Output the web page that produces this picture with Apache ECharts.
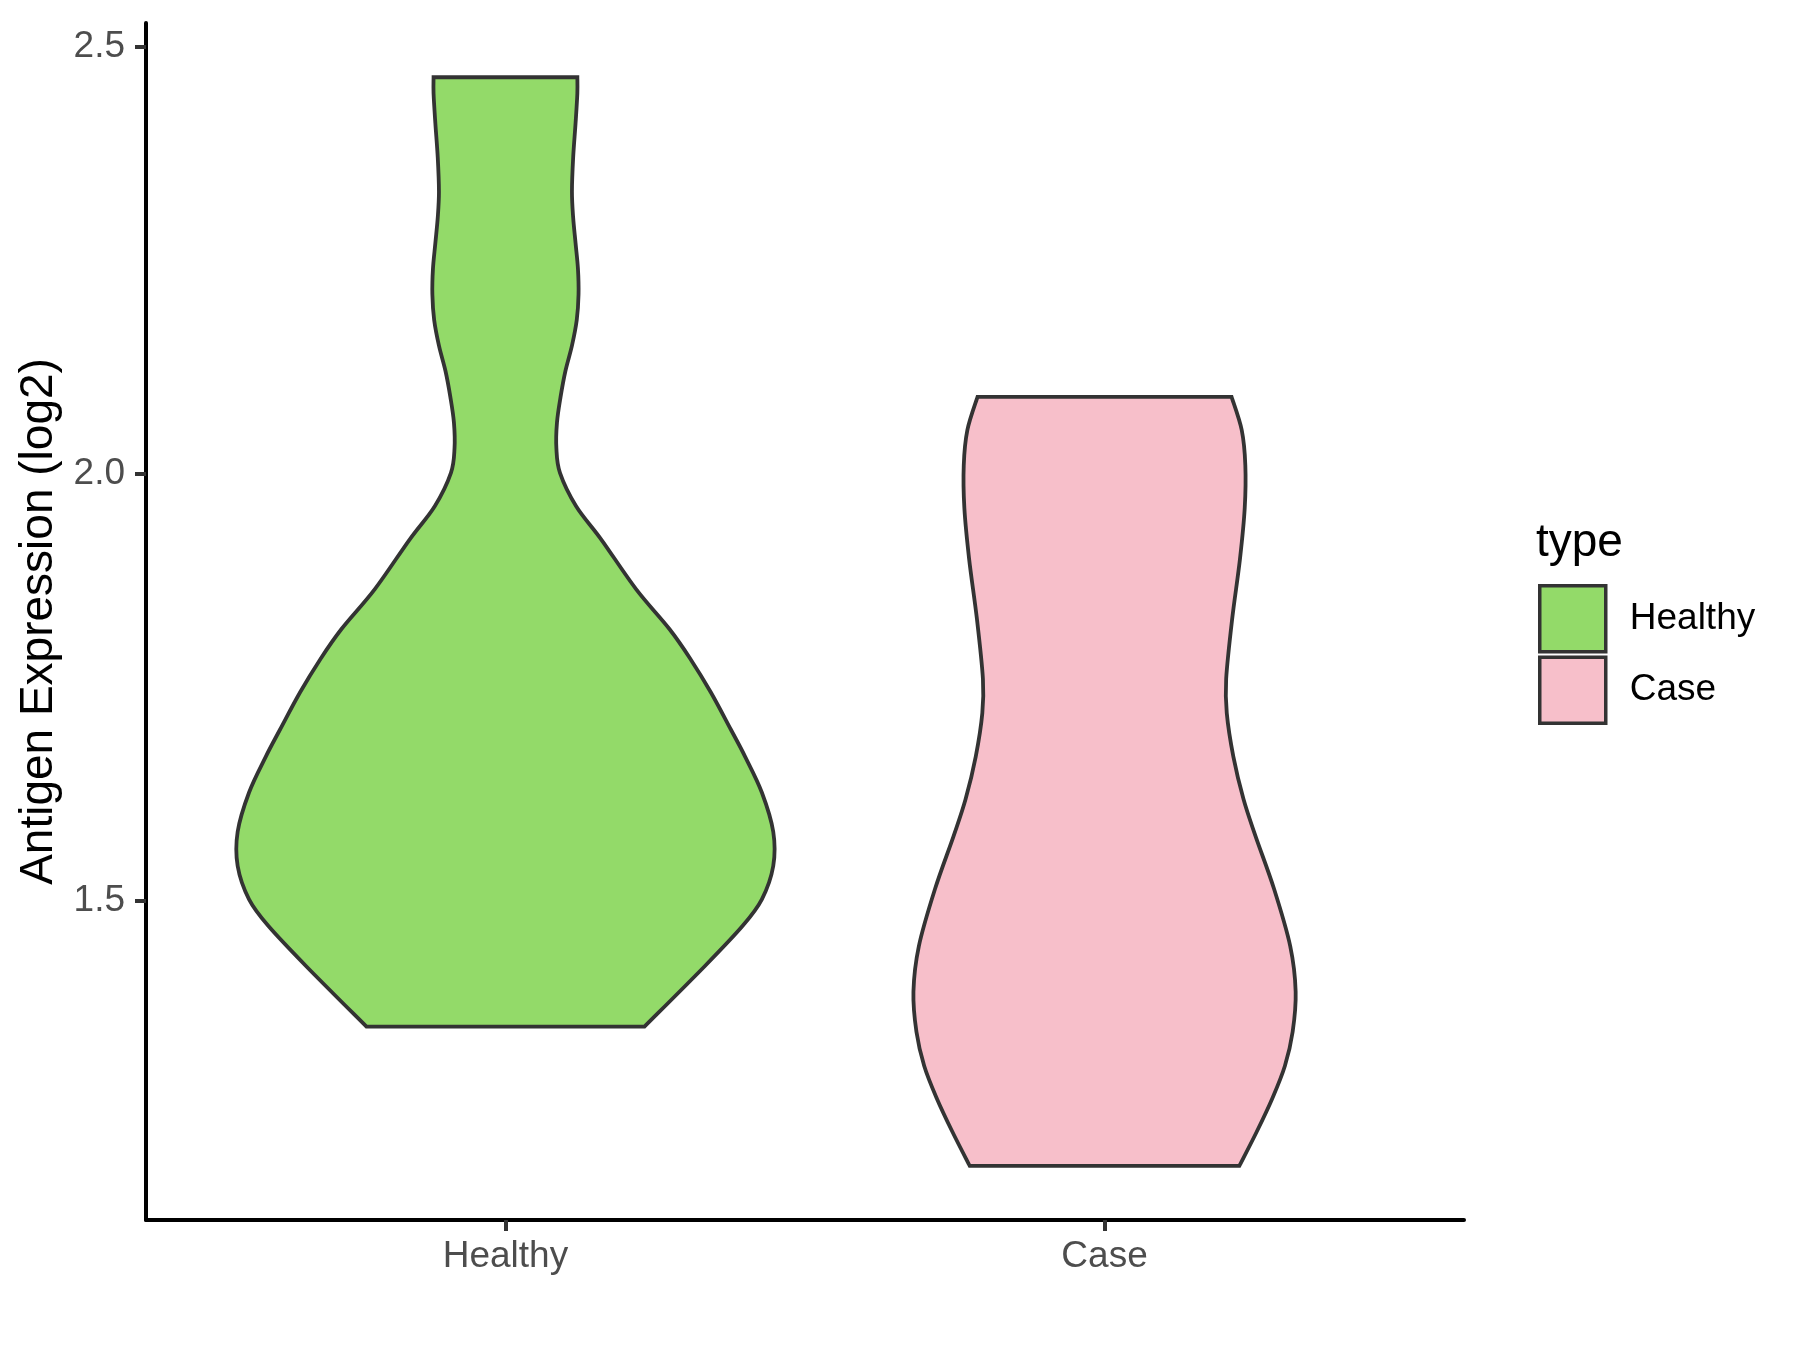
<!DOCTYPE html>
<html>
<head>
<meta charset="utf-8">
<title>Antigen Expression violin</title>
<script src="https://cdn.jsdelivr.net/npm/echarts@6/dist/echarts.min.js"></script>
<style>
  html, body { margin: 0; padding: 0; background: #fff; }
  #chart { width: 1800px; height: 1350px; }
</style>
</head>
<body>
<div id="chart"></div>
<script>
// groups on the x axis
const categories = ['Healthy', 'Case']
const fillColors = ['#93DA69', '#F7BFCA']

// violin outlines, top to bottom:
// y value (log2) and half width in category units
const healthyY = [2.464, 2.445, 2.41, 2.37, 2.33, 2.30, 2.27, 2.24, 2.21, 2.18, 2.15, 2.12, 2.09, 2.06, 2.03,
  2.001, 1.962, 1.923, 1.865, 1.818, 1.783, 1.744, 1.701, 1.669, 1.627, 1.581, 1.541, 1.502, 1.471, 1.424, 1.353]
const healthyHalf = [0.120, 0.120, 0.117, 0.113, 0.111, 0.113, 0.117, 0.121, 0.122, 0.119, 0.111, 0.100, 0.092,
  0.086, 0.085, 0.091, 0.118, 0.160, 0.218, 0.274, 0.309, 0.343, 0.376, 0.400, 0.428, 0.447, 0.447, 0.428,
  0.396, 0.333, 0.232]

const caseY = [2.090, 2.051, 2.01, 1.96, 1.90, 1.83, 1.76, 1.72, 1.669, 1.619, 1.576, 1.514, 1.447,
  1.394, 1.347, 1.307, 1.269, 1.230, 1.190]
const caseHalf = [0.212, 0.229, 0.235, 0.234, 0.226, 0.213, 0.203, 0.204, 0.215, 0.232, 0.252, 0.283, 0.310,
  0.319, 0.314, 0.301, 0.280, 0.254, 0.225]

const yTicks = [1.5, 2.0, 2.5]
const xTicks = [1, 2]

const font = 'Liberation Sans, Arial, Helvetica, sans-serif'

// smooth curve through pixel points (catmull-rom as cubic beziers)
function curveTo(pts) {
  let d = ''
  for (let i = 0; i < pts.length - 1; i++) {
    const p0 = pts[Math.max(i - 1, 0)]
    const p1 = pts[i]
    const p2 = pts[i + 1]
    const p3 = pts[Math.min(i + 2, pts.length - 1)]
    const c1 = [p1[0] + (p2[0] - p0[0]) / 6, p1[1] + (p2[1] - p0[1]) / 6]
    const c2 = [p2[0] - (p3[0] - p1[0]) / 6, p2[1] - (p3[1] - p1[1]) / 6]
    d += ' C' + c1[0] + ',' + c1[1] + ' ' + c2[0] + ',' + c2[1] + ' ' + p2[0] + ',' + p2[1]
  }
  return d
}

function violinItem(ys, halves) {
  return function (params, api) {
    const cx = api.value(0)
    const right = ys.map((y, i) => api.coord([cx + halves[i], y]))
    const left = ys.map((y, i) => api.coord([cx - halves[i], y])).reverse()
    const d = 'M' + right[0][0] + ',' + right[0][1] + curveTo(right) +
      ' L' + left[0][0] + ',' + left[0][1] + curveTo(left) + ' Z'
    return {
      type: 'path',
      shape: { pathData: d },
      style: {
        fill: api.visual('color'),
        stroke: '#333333',
        lineWidth: 3.8,
        lineJoin: 'miter'
      }
    }
  }
}

const chart = echarts.init(document.getElementById('chart'))
chart.setOption({
  animation: false,
  backgroundColor: '#ffffff',
  textStyle: { fontFamily: font },
  title: {
    text: 'type',
    left: 1536,
    top: 520,
    padding: 0,
    textStyle: { fontSize: 46, fontWeight: 'normal', color: '#000000', fontFamily: font }
  },
  legend: {
    orient: 'vertical',
    left: 1538,
    top: 584,
    padding: 0,
    itemWidth: 66,
    itemHeight: 66,
    itemGap: 2,
    icon: 'rect',
    itemStyle: { borderColor: '#333333', borderWidth: 3.5 },
    textStyle: { fontSize: 37, color: '#000000', fontFamily: font, padding: [0, 0, 0, 19] },
    data: categories
  },
  grid: { left: 146, right: 336, top: 23, bottom: 130, containLabel: false },
  xAxis: {
    type: 'value',
    min: 0.4,
    max: 2.6,
    splitLine: { show: false },
    axisLine: { onZero: false, lineStyle: { color: '#000000', width: 4 } },
    axisTick: { customValues: xTicks, length: 11, lineStyle: { color: '#333333', width: 4 } },
    axisLabel: {
      customValues: xTicks,
      formatter: v => categories[Math.round(v) - 1],
      fontSize: 37,
      color: '#4D4D4D',
      margin: 18,
      fontFamily: font
    }
  },
  yAxis: {
    type: 'value',
    min: 1.1267,
    max: 2.5275,
    name: 'Antigen Expression (log2)',
    nameLocation: 'middle',
    nameGap: 80,
    nameTextStyle: { fontSize: 46, color: '#000000', fontFamily: font },
    splitLine: { show: false },
    axisLine: { onZero: false, lineStyle: { color: '#000000', width: 4 } },
    axisTick: { customValues: yTicks, length: 11, lineStyle: { color: '#333333', width: 4 } },
    axisLabel: {
      customValues: yTicks,
      formatter: v => v.toFixed(1),
      fontSize: 37,
      color: '#4D4D4D',
      margin: 21,
      fontFamily: font
    }
  },
  series: [
    {
      type: 'custom',
      name: categories[0],
      renderItem: violinItem(healthyY, healthyHalf),
      itemStyle: { color: fillColors[0] },
      encode: { x: 0, y: 1 },
      data: [[xTicks[0], healthyY[0]]]
    },
    {
      type: 'custom',
      name: categories[1],
      renderItem: violinItem(caseY, caseHalf),
      itemStyle: { color: fillColors[1] },
      encode: { x: 0, y: 1 },
      data: [[xTicks[1], caseY[0]]]
    }
  ]
})
</script>
</body>
</html>
